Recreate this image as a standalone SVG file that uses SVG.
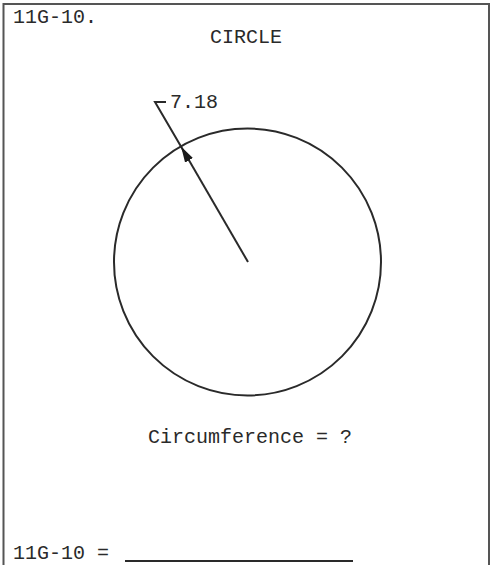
<svg xmlns="http://www.w3.org/2000/svg" width="491" height="565" viewBox="0 0 491 565">
<defs>
<style>
.t{font-family:"Liberation Mono","Courier New",monospace;font-size:20px;fill:#2a2a2a}
.ln{stroke:#2a2a2a;stroke-width:2;fill:none}
.fr{stroke:#555;stroke-width:2;fill:none}
</style>
<marker id="ah" viewBox="0 0 16 9" refX="16" refY="4.5" markerWidth="16" markerHeight="9" markerUnits="userSpaceOnUse" orient="auto">
<path d="M0,0 L16,4.5 L0,9 Z" fill="#1a1a1a"/>
</marker>
</defs>
<rect width="491" height="565" fill="#fff"/>
<g id="frame">
<path class="fr" d="M3.5,565 V4 H489 V565"/>
</g>
<g id="title">
<text class="t" x="13" y="23">11G-10.</text>
<text class="t" x="210" y="43">CIRCLE</text>
</g>
<g id="circle">
<circle class="ln" cx="247.5" cy="262" r="133.5"/>
</g>
<g id="connectors">
<line class="ln" x1="248" y1="262" x2="181" y2="146.5" marker-end="url(#ah)"/>
<polyline class="ln" points="181,146.5 155,102 166,102"/>
</g>
<g id="label">
<text class="t" x="170" y="108">7.18</text>
</g>
<g id="question">
<text class="t" x="148" y="443">Circumference = ?</text>
</g>
<g id="answer">
<text class="t" x="13" y="559">11G-10 =</text>
<line class="ln" x1="125" y1="561" x2="353" y2="561"/>
</g>
</svg>
